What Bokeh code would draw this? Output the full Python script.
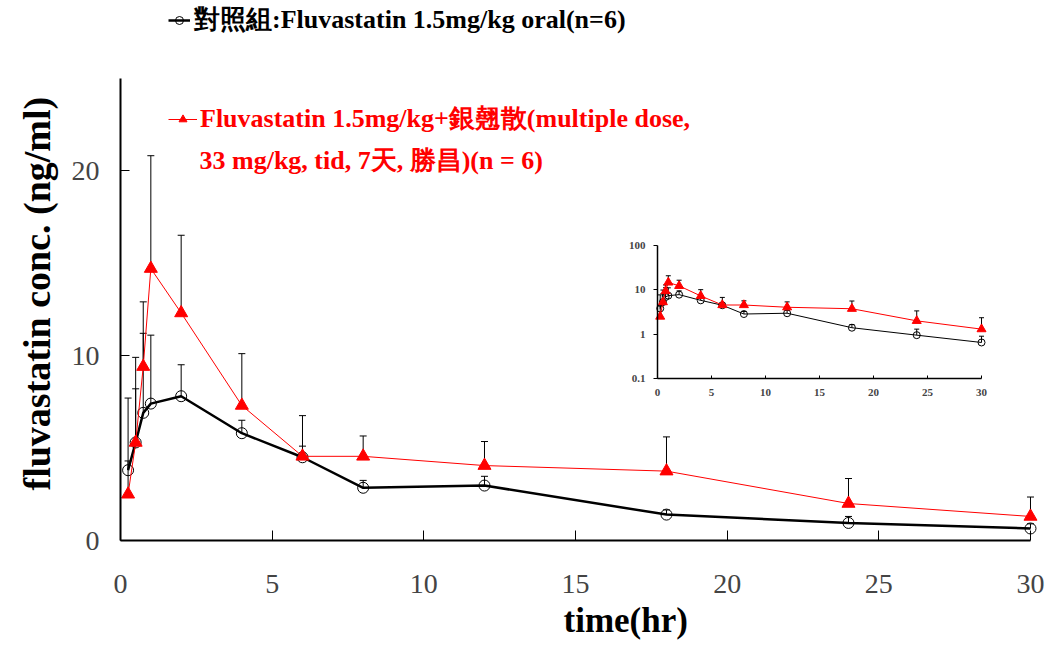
from bokeh.plotting import figure
from bokeh.models import (Range1d, LinearAxis, LogAxis, LogScale, FixedTicker, Whisker,
                          TeeHead, ColumnDataSource, Legend, LegendItem, Label, Title)
from bokeh.embed import file_html
from bokeh.resources import INLINE

# ---- data ----
time_hr = [0.25, 0.5, 0.75, 1, 2, 4, 6, 8, 12, 18, 24, 30]
control_mean = [3.8, 5.3, 6.9, 7.4, 7.8, 5.8, 4.5, 2.85, 2.97, 1.4, 0.95, 0.65]
control_sd = [3.9, 2.9, 4.3, 3.7, 1.7, 0.7, 0.6, 0.4, 0.5, 0.25, 0.35, 0.25]
combo_mean = [2.5, 5.3, 9.4, 14.7, 12.3, 7.3, 4.55, 4.55, 4.05, 3.75, 2.0, 1.3]
combo_sd = [1.8, 4.6, 3.5, 6.1, 4.2, 2.8, 2.2, 1.1, 1.3, 1.85, 1.35, 1.05]

x_ticks = [0, 5, 10, 15, 20, 25, 30]
y_ticks = [0, 10, 20]
inset_y_ticks = [0.1, 1, 10, 100]

control_label = "對照組:Fluvastatin 1.5mg/kg oral(n=6)"
combo_label_1 = "Fluvastatin 1.5mg/kg+銀翹散(multiple dose,"
combo_label_2 = "33 mg/kg, tid, 7天, 勝昌)(n = 6)"
x_title = "time(hr)"
y_title = "fluvastatin conc. (ng/ml)"

FONT = "Liberation Serif"

ctrl_src = ColumnDataSource(dict(t=time_hr, m=control_mean,
                                 up=[a + b for a, b in zip(control_mean, control_sd)]))
combo_src = ColumnDataSource(dict(t=time_hr, m=combo_mean,
                                  up=[a + b for a, b in zip(combo_mean, combo_sd)]))

p = figure(width=1046, height=648, output_backend="svg", toolbar_location=None,
           x_range=Range1d(0, 30.33), y_range=Range1d(0, 29.19),
           x_axis_type=None, y_axis_type=None)
p.min_border_left = 120
p.min_border_right = 6
p.min_border_top = 0
p.min_border_bottom = 108
p.outline_line_color = None
p.background_fill_color = "white"
p.border_fill_color = "white"

# inset coordinate system (linear x, log y) occupying part of the frame
p.extra_x_ranges = {"ix": Range1d(-49.72, 35.46)}
p.extra_y_ranges = {"iy": Range1d(10 ** -4.654, 10 ** 7.527)}
p.extra_y_scales = {"iy": LogScale()}

# ---- main axes ----
yax = LinearAxis(bounds=(0, 25), ticker=FixedTicker(ticks=y_ticks),
                 axis_line_width=2, major_tick_in=9, major_tick_out=0,
                 major_tick_line_width=1, minor_tick_line_color=None,
                 major_label_text_font=FONT, major_label_text_font_size="28px",
                 major_label_standoff=21)
p.add_layout(yax, "left")

xax = LinearAxis(bounds=(0, 30), ticker=FixedTicker(ticks=x_ticks),
                 axis_line_width=2, major_tick_in=10, major_tick_out=0,
                 major_tick_line_width=1, minor_tick_line_color=None,
                 major_label_text_font=FONT, major_label_text_font_size="28px",
                 major_label_standoff=34)
p.add_layout(xax, "below")

# axis titles (as side-panel titles so they can be offset like the reference)
p.add_layout(Title(text=y_title, align="left", offset=50, standoff=22,
                   text_font=FONT, text_font_size="38px", text_font_style="bold",
                   text_color="black"), "left")
p.add_layout(Title(text=x_title, align="left", offset=443, standoff=7,
                   text_font=FONT, text_font_size="35px", text_font_style="bold",
                   text_color="black"), "below")

# ---- main error bars ----
for src in (ctrl_src, combo_src):
    p.add_layout(Whisker(source=src, base="t", lower="m", upper="up",
                         line_color="black", line_width=1, lower_head=None,
                         upper_head=TeeHead(size=7, line_color="black", line_width=1),
                         level="underlay"))

# ---- main series ----
cl = p.line("t", "m", source=ctrl_src, line_color="black", line_width=2.5)
cs = p.scatter("t", "m", source=ctrl_src, marker="circle", size=11,
               fill_color=None, line_color="black", line_width=1)
rl = p.line("t", "m", source=combo_src, line_color="red", line_width=1)
rs = p.scatter("t", "m", source=combo_src, marker="triangle", size=13,
               fill_color="red", line_color="red")

# ---- inset (log scale) ----
iyax = LogAxis(x_range_name="ix", y_range_name="iy", fixed_location=0,
               bounds=(0.1, 100), ticker=FixedTicker(ticks=inset_y_ticks),
               axis_line_width=1.5, major_tick_in=0, major_tick_out=4,
               minor_tick_line_color=None,
               major_label_overrides={0.1: "0.1", 1: "1", 10: "10", 100: "100"},
               major_label_text_font=FONT, major_label_text_font_size="11px",
               major_label_text_font_style="bold", major_label_standoff=8)
p.add_layout(iyax, "left")
ixax = LinearAxis(x_range_name="ix", y_range_name="iy", fixed_location=0.1,
                  bounds=(0, 30), ticker=FixedTicker(ticks=x_ticks),
                  axis_line_width=1.5, major_tick_in=3, major_tick_out=0,
                  minor_tick_line_color=None,
                  major_label_text_font=FONT, major_label_text_font_size="11px",
                  major_label_text_font_style="bold", major_label_standoff=10)
p.add_layout(ixax, "below")

for src in (ctrl_src, combo_src):
    p.add_layout(Whisker(source=src, base="t", lower="m", upper="up",
                         x_range_name="ix", y_range_name="iy",
                         line_color="black", line_width=1, lower_head=None,
                         upper_head=TeeHead(size=5, line_color="black", line_width=1),
                         level="underlay"))

p.line("t", "m", source=ctrl_src, line_color="black", line_width=1,
       x_range_name="ix", y_range_name="iy")
p.scatter("t", "m", source=ctrl_src, marker="circle", size=7, fill_color=None,
          line_color="black", x_range_name="ix", y_range_name="iy")
p.line("t", "m", source=combo_src, line_color="red", line_width=1,
       x_range_name="ix", y_range_name="iy")
p.scatter("t", "m", source=combo_src, marker="triangle", size=9, fill_color="red",
          line_color="red", x_range_name="ix", y_range_name="iy")

# ---- legends ----
leg1 = Legend(items=[LegendItem(label=control_label, renderers=[cl, cs])],
              location=(48, 503), padding=0, margin=0, spacing=0,
              glyph_width=22, glyph_height=20, label_height=20, label_standoff=4,
              border_line_color=None, background_fill_alpha=0,
              label_text_font=FONT, label_text_font_size="26px",
              label_text_font_style="bold", label_text_color="black")
p.add_layout(leg1, "center")

leg2 = Legend(items=[LegendItem(label=combo_label_1, renderers=[rl, rs])],
              location=(48, 404), padding=0, margin=0, spacing=0,
              glyph_width=29, glyph_height=20, label_height=20, label_standoff=3,
              border_line_color=None, background_fill_alpha=0,
              label_text_font=FONT, label_text_font_size="26px",
              label_text_font_style="bold", label_text_color="red")
p.add_layout(leg2, "center")

p.add_layout(Label(x=79, y=380, x_units="screen", y_units="screen", text=combo_label_2,
                   text_font=FONT, text_font_size="26px", text_font_style="bold",
                   text_color="red", text_baseline="middle", text_align="left"))

open("out.html", "w").write(file_html(p, INLINE))
